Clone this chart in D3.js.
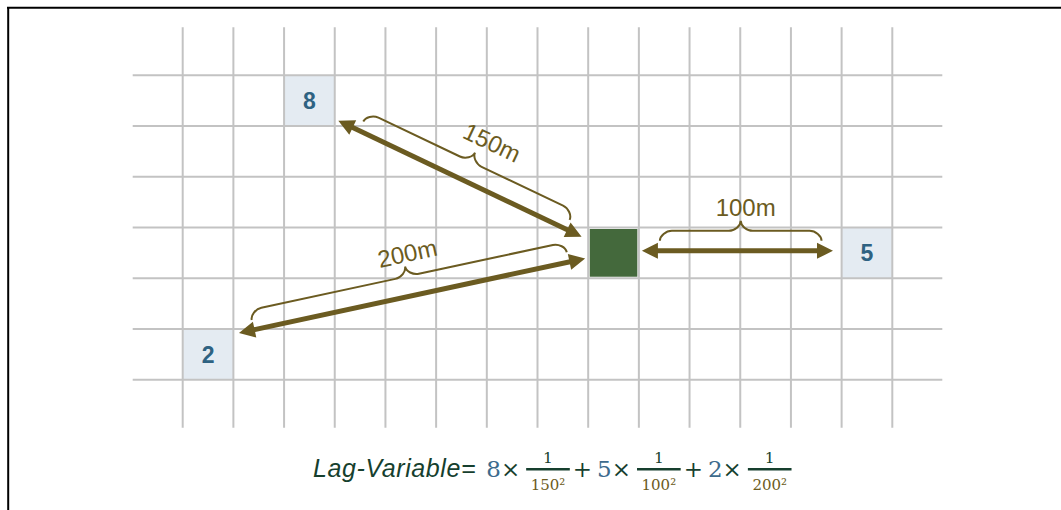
<!DOCTYPE html>
<html>
<head>
<meta charset="utf-8">
<script src="https://cdn.jsdelivr.net/npm/d3@7"></script>
<style>
  html, body { margin: 0; padding: 0; background: #ffffff; }
  svg { display: block; }
</style>
</head>
<body>
<svg id="chart" width="1061" height="510"></svg>
<script>
// ---------- data ----------
const gridCols = d3.range(15);           // vertical grid line indices
const gridRows = d3.range(7);            // horizontal grid line indices
const neighbourValues = [8, 5, 2];       // values of neighbouring cells
const neighbourCols = [2, 13, 0];        // grid column of each neighbour
const neighbourRows = [0, 3, 5];         // grid row of each neighbour
const focalCol = [8];                    // focal cell column
const focalRow = [3];                    // focal cell row
const distances = [150, 100, 200];       // distance to each neighbour (m)
const distanceUnit = "m";
const exponent = 2;
const formulaLabel = "Lag-Variable=";

// ---------- layout (grid units) ----------
const arrowFrom = [[3.07, 0.895], [9.06, 3.46], [1.11, 5.08]];
const arrowTo   = [[7.87, 3.18], [12.83, 3.46], [7.94, 3.61]];
const braceSpan = [[0.085, 0.933], [0.094, 0.94], [0.043, 0.953]];
const labelLift = [8, 5, 4];
const labelShift = [11, 5, 5];

// ---------- styles ----------
const C = {
  grid: "#c3c3c3",
  cell: "#e4ebf2",
  num: "#2e6282",
  focal: "#44693c",
  olive: "#6b5b21",
  dark: "#163f2e",
  blue: "#3d6b8d"
};

const svg = d3.select("#chart");
const x = d3.scaleLinear().domain([0, 14]).range([182.7, 892.3]);
const y = d3.scaleLinear().domain([0, 6]).range([75.3, 379.7]);

// frame (top + left edges)
svg.append("line").attr("x1", 7).attr("x2", 1061).attr("y1", 7.7).attr("y2", 7.7)
  .attr("stroke", "#000").attr("stroke-width", 2);
svg.append("line").attr("x1", 8.2).attr("x2", 8.2).attr("y1", 7).attr("y2", 510)
  .attr("stroke", "#000").attr("stroke-width", 2);

// neighbour cells
const cells = neighbourValues.map((v, i) => ({v, c: neighbourCols[i], r: neighbourRows[i]}));
svg.append("g").selectAll("rect").data(cells).join("rect")
  .attr("x", d => x(d.c)).attr("y", d => y(d.r))
  .attr("width", d => x(d.c + 1) - x(d.c)).attr("height", d => y(d.r + 1) - y(d.r))
  .attr("fill", C.cell);

// focal cell
svg.append("rect")
  .attr("x", x(focalCol[0]) + 1.5).attr("y", y(focalRow[0]) + 1.5)
  .attr("width", x(focalCol[0] + 1) - x(focalCol[0]) - 3)
  .attr("height", y(focalRow[0] + 1) - y(focalRow[0]) - 3)
  .attr("fill", C.focal);

// grid
const gg = svg.append("g").attr("stroke", C.grid).attr("stroke-width", 2);
gg.selectAll("line.v").data(gridCols).join("line").attr("class", "v")
  .attr("x1", d => x(d)).attr("x2", d => x(d))
  .attr("y1", y(0) - 48).attr("y2", y(6) + 48);
gg.selectAll("line.h").data(gridRows).join("line").attr("class", "h")
  .attr("y1", d => y(d)).attr("y2", d => y(d))
  .attr("x1", x(0) - 50).attr("x2", x(14) + 50);

// neighbour numbers
svg.append("g").selectAll("text").data(cells).join("text")
  .attr("x", d => (x(d.c) + x(d.c + 1)) / 2)
  .attr("y", d => (y(d.r) + y(d.r + 1)) / 2 + 8.5)
  .attr("text-anchor", "middle")
  .attr("font-family", "Liberation Sans, Arial, sans-serif")
  .attr("font-weight", "bold").attr("font-size", 23)
  .attr("fill", C.num)
  .text(d => d.v);

// arrows + braces + labels
const hl = 16, hw = 8;
distances.forEach((dist, i) => {
  const x0 = x(arrowFrom[i][0]), y0 = y(arrowFrom[i][1]);
  const x1 = x(arrowTo[i][0]), y1 = y(arrowTo[i][1]);
  const L = Math.hypot(x1 - x0, y1 - y0);
  const deg = Math.atan2(y1 - y0, x1 - x0) * 180 / Math.PI;
  const g = svg.append("g").attr("transform", `translate(${x0},${y0}) rotate(${deg})`);
  g.append("line").attr("x1", hl - 3).attr("x2", L - hl + 3).attr("y1", 0).attr("y2", 0)
    .attr("stroke", C.olive).attr("stroke-width", 5);
  g.append("path").attr("d", `M0,0L${hl},${-hw}L${hl},${hw}Z M${L},0L${L - hl},${-hw}L${L - hl},${hw}Z`)
    .attr("fill", C.olive);
  const s = braceSpan[i][0] * L, e = braceSpan[i][1] * L, m = (s + e) / 2;
  const r = 12, k = 0.5;
  const d = `M${s},-10 C${s},${-10 - 10 * k} ${s + r * k},-20 ${s + r},-20 L${m - r},-20 ` +
    `C${m - r * k},-20 ${m},${-20 - 10 * k} ${m},-30 ` +
    `C${m},${-20 - 10 * k} ${m + r * k},-20 ${m + r},-20 L${e - r},-20 ` +
    `C${e - r * k},-20 ${e},${-20 + 10 * k} ${e},-10`;
  g.append("path").attr("d", d).attr("fill", "none").attr("stroke", C.olive).attr("stroke-width", 2);
  g.append("text").attr("x", m + labelShift[i]).attr("y", -30 - labelLift[i])
    .attr("text-anchor", "middle")
    .attr("font-family", "Liberation Sans, Arial, sans-serif").attr("font-size", 24)
    .attr("fill", C.olive).text(dist + distanceUnit);
});

// formula
const fy = 476.7;
const fg = svg.append("g");
let cx = 313;
function put(str, opts) {
  const t = fg.append("text").attr("x", cx).attr("y", opts.y || fy)
    .attr("font-family", opts.family).attr("font-size", opts.size)
    .attr("fill", opts.fill).attr("font-style", opts.italic ? "italic" : null)
    .attr("letter-spacing", opts.ls || null)
    .text(str);
  const w = t.node().getComputedTextLength();
  return {t, w};
}
const sans = "Liberation Sans, Arial, sans-serif";
const serif = "DejaVu Serif, serif";
let p = put(formulaLabel, {family: sans, size: 25, fill: C.dark, italic: true, ls: 0.6});
cx += p.w + 10;
neighbourValues.forEach((v, i) => {
  p = put(String(v), {family: serif, size: 23, fill: C.blue}); cx += p.w;
  p = put("\u00d7", {family: serif, size: 23, fill: C.dark}); cx += p.w + 6;
  const num = fg.append("text").attr("y", 462.7).attr("text-anchor", "middle")
    .attr("font-family", serif).attr("font-size", 15.5).attr("fill", C.dark).text("1");
  const den = fg.append("text").attr("y", 490.3).attr("text-anchor", "middle")
    .attr("font-family", serif).attr("font-size", 15).attr("fill", C.olive)
    .text(distances[i] + "\u00b2");
  const bw = den.node().getComputedTextLength() + 9;
  num.attr("x", cx + bw / 2); den.attr("x", cx + bw / 2);
  fg.append("line").attr("x1", cx).attr("x2", cx + bw).attr("y1", 469.3).attr("y2", 469.3)
    .attr("stroke", C.dark).attr("stroke-width", 2.5);
  cx += bw + 3;
  if (i < neighbourValues.length - 1) {
    p = put("+", {family: serif, size: 23, fill: C.dark}); cx += p.w + 5;
  }
});
</script>
</body>
</html>
